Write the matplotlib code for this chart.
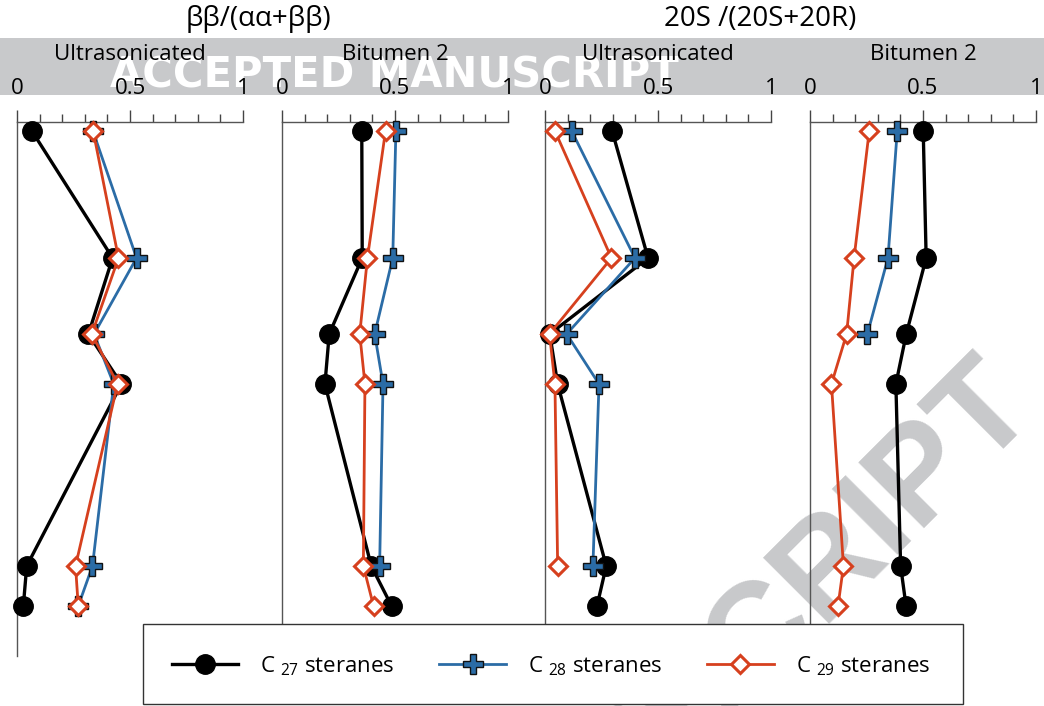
import matplotlib
matplotlib.use('Agg')  # no display
import numpy as np
import matplotlib.pyplot as plt
from matplotlib.patches import Rectangle
from matplotlib.ticker import MultipleLocator

plt.rcParams['font.family'] = ['Open Sans', 'DejaVu Sans']
plt.rcParams['mathtext.fontset'] = 'custom'
plt.rcParams['mathtext.rm'] = 'Open Sans'

W, H = 1044, 706

# sample depths (relative units, increasing downwards)
depth = [9, 136, 212, 262, 444, 484]

# ββ/(αα+ββ) ratios
bb_ultra_c27 = [0.066, 0.423, 0.316, 0.462, 0.043, 0.028]
bb_ultra_c28 = [0.336, 0.529, 0.341, 0.428, 0.334, 0.271]
bb_ultra_c29 = [0.337, 0.449, 0.331, 0.445, 0.259, 0.271]

bb_bit_c27 = [0.353, 0.355, 0.209, 0.190, 0.395, 0.485]
bb_bit_c28 = [0.504, 0.490, 0.410, 0.447, 0.432, np.nan]
bb_bit_c29 = [0.458, 0.378, 0.344, 0.367, 0.360, 0.405]

# 20S/(20S+20R) ratios
ss_ultra_c27 = [0.297, 0.456, 0.021, 0.056, 0.271, 0.230]
ss_ultra_c28 = [0.118, 0.398, 0.096, 0.239, 0.212, np.nan]
ss_ultra_c29 = [0.044, 0.294, 0.020, 0.044, 0.056, np.nan]

ss_bit_c27 = [0.501, 0.514, 0.426, 0.380, 0.401, 0.425]
ss_bit_c28 = [0.386, 0.345, 0.254, np.nan, np.nan, np.nan]
ss_bit_c29 = [0.262, 0.195, 0.162, 0.095, 0.148, 0.124]

panel_names = ['Ultrasonicated', 'Bitumen 2', 'Ultrasonicated', 'Bitumen 2']
panel_data = [
    (bb_ultra_c27, bb_ultra_c28, bb_ultra_c29),
    (bb_bit_c27, bb_bit_c28, bb_bit_c29),
    (ss_ultra_c27, ss_ultra_c28, ss_ultra_c29),
    (ss_bit_c27, ss_bit_c28, ss_bit_c29),
]
labels = ['C $\\mathregular{_{27}}$ steranes',
          'C $\\mathregular{_{28}}$ steranes',
          'C $\\mathregular{_{29}}$ steranes']

BLUE = '#2b6ca6'
RED = '#d6401e'
GREY = '#c8c9cb'

fig = plt.figure(figsize=(W / 100, H / 100), dpi=100)

# grey header band with stamp
fig.add_artist(Rectangle((0, 1 - 95 / H), 1, 57 / H, transform=fig.transFigure,
                         facecolor=GREY, edgecolor='none', zorder=0.1))
fig.text(394 / W, 1 - 88 / H, 'ACCEPTED MANUSCRIPT', ha='center', va='baseline',
         color='white', fontsize=30, fontweight='bold', family='DejaVu Sans', zorder=0.2)

# diagonal stamp
fig.text(1040 / W, 1 - 412 / H, 'ACCEPTED MANUSCRIPT', rotation=45, rotation_mode='anchor',
         ha='right', va='baseline', color=GREY, fontsize=97, fontweight='bold',
         family='Liberation Sans', zorder=0.3)

lefts = [17, 282, 545, 810]
handles = None
for left, name, (c27, c28, c29) in zip(lefts, panel_names, panel_data):
    ax = fig.add_axes([left / W, 1 - 656 / H, 226 / W, (656 - 122) / H])
    ax.set_zorder(1)
    ax.set_facecolor('none')
    ax.set_xlim(0, 1)
    ax.set_ylim(534, 0)
    ax.xaxis.tick_top()
    ax.set_xticks([0, 0.5, 1])
    ax.set_xticklabels(['0', '0.5', '1'])
    ax.xaxis.set_minor_locator(MultipleLocator(0.1))
    ax.tick_params(axis='x', which='major', direction='out', length=8.6, width=1,
                   color='#444444', pad=8, labelsize=16)
    ax.tick_params(axis='x', which='minor', direction='out', length=5.8, width=1,
                   color='#444444')
    ax.set_yticks([])
    for s in ['right', 'bottom']:
        ax.spines[s].set_visible(False)
    for s in ['top', 'left']:
        ax.spines[s].set_color('#555555')
        ax.spines[s].set_linewidth(1)

    l1, = ax.plot(c27, depth, '-o', color='black', lw=2.4, ms=14, clip_on=False, zorder=3)
    l2, = ax.plot(c28, depth, '-P', color=BLUE, lw=2, ms=14, mec='#111111', mew=1,
                  clip_on=False, zorder=4)
    l3, = ax.plot(c29, depth, '-D', color=RED, lw=2, ms=9, mfc='white', mec=RED, mew=2.2,
                  clip_on=False, zorder=5)
    handles = [l1, l2, l3]

    fig.text((left + 113) / W, 1 - 54 / H, name, ha='center', va='center', fontsize=16, zorder=3)

fig.text(258 / W, 1 - 19 / H, 'ββ/(αα+ββ)', ha='center', va='center', fontsize=20)
fig.text(760 / W, 1 - 19 / H, '20S /(20S+20R)', ha='center', va='center', fontsize=20)

# legend box
fig.add_artist(Rectangle((143 / W, 1 - 704 / H), 820 / W, 80 / H, transform=fig.transFigure,
                         facecolor='white', edgecolor='#333333', lw=1, zorder=4))
leg = fig.legend(handles, labels, loc='center', bbox_to_anchor=(551 / W, 1 - 666 / H),
                 ncol=3, frameon=False, handlelength=3.0, handletextpad=1.0,
                 columnspacing=2.0, fontsize=16, numpoints=1)
leg.set_zorder(5)

fig.savefig('out.png', dpi=100)
